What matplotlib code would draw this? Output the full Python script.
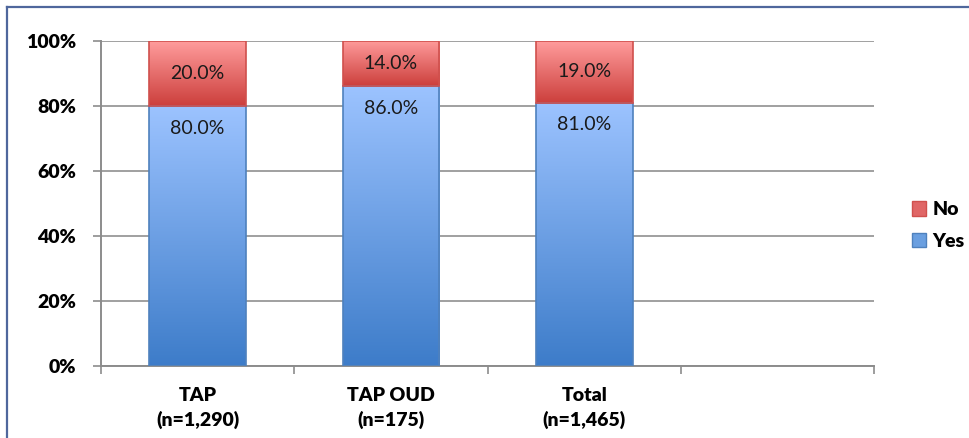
import numpy as np
import matplotlib.pyplot as plt
from matplotlib.colors import LinearSegmentedColormap
from matplotlib.lines import Line2D
from matplotlib.patches import Patch

categories = ['TAP\n(n=1,290)', 'TAP OUD\n(n=175)', 'Total\n(n=1,465)', '']
yes_values = [80.0, 86.0, 81.0]
no_values = [20.0, 14.0, 19.0]

plt.rcParams['font.family'] = ['Lato', 'DejaVu Sans']

blue_cmap = LinearSegmentedColormap.from_list('blue', ['#3d7cc9', '#9cc3ff'])
red_cmap = LinearSegmentedColormap.from_list('red', ['#cc3f3c', '#ff9c9c'])

fig = plt.figure(figsize=(9.69, 4.38), dpi=100)
ax = fig.add_axes([0.1042, 0.1644, 0.798, 0.742])

x = np.arange(len(yes_values))
yes_bars = ax.bar(x, yes_values, width=0.5, color='none', edgecolor='#4f81bd', linewidth=1.2, zorder=3)
no_bars = ax.bar(x, no_values, width=0.5, bottom=yes_values, color='none', edgecolor='#d0504d',
                 linewidth=1.2, zorder=3)

grad = np.linspace(0, 1, 256).reshape(-1, 1)


def fill_gradient(bars, cmap):
    for b in bars:
        x0, y0 = b.get_x(), b.get_y()
        w, h = b.get_width(), b.get_height()
        im = ax.imshow(grad, cmap=cmap, origin='lower', aspect='auto',
                       extent=[x0, x0 + w, y0, y0 + h], zorder=2)
        im.set_clip_path(b)


fill_gradient(yes_bars, blue_cmap)
fill_gradient(no_bars, red_cmap)

for i in range(len(yes_values)):
    ax.text(x[i], yes_values[i] - 6.8, f'{yes_values[i]:.1f}%', ha='center', va='center',
            fontsize=14, color='#1a1a1a', zorder=4)
    ax.text(x[i], yes_values[i] + no_values[i] / 2, f'{no_values[i]:.1f}%', ha='center', va='center',
            fontsize=14, color='#1a1a1a', zorder=4)

ax.set_xlim(-0.5, len(categories) - 0.5)
ax.set_ylim(0, 100)
ax.set_yticks(np.arange(0, 101, 20))
ax.set_yticklabels([f'{v}%' for v in range(0, 101, 20)], fontsize=14, fontweight='heavy')
ax.set_xticks(np.arange(len(categories) + 1) - 0.5, minor=False)
ax.set_xticklabels([])
ax.set_xticks(np.arange(len(categories)), minor=True)
ax.set_xticklabels(categories, minor=True, fontsize=14, fontweight='heavy', linespacing=1.45)
ax.tick_params(axis='x', which='minor', length=0, pad=15)
ax.tick_params(axis='x', which='major', length=6, color='#8c8c8c', width=1.2)
ax.tick_params(axis='y', length=6, color='#8c8c8c', width=1.2, pad=12)

ax.yaxis.grid(True, color='#a0a0a0', linewidth=1.4, zorder=0)
ax.set_axisbelow(True)
for s in ['top', 'right']:
    ax.spines[s].set_visible(False)
for s in ['left', 'bottom']:
    ax.spines[s].set_color('#8c8c8c')
    ax.spines[s].set_linewidth(1.4)

handles = [Patch(facecolor='#e06666', edgecolor='#d0504d', label='No'),
           Patch(facecolor='#6a9fe0', edgecolor='#4f81bd', label='Yes')]
leg = fig.legend(handles=handles, loc='center left', bbox_to_anchor=(0.933, 0.485), frameon=False,
                 prop={'size': 14, 'weight': 'heavy'}, handlelength=0.75, handleheight=0.75,
                 handletextpad=0.3, labelspacing=0.75, borderaxespad=0)

# outer frame of the original figure
fig.add_artist(Line2D([7 / 969, 7 / 969], [0, 1 - 7 / 438], color='#4f679c', linewidth=1.6))
fig.add_artist(Line2D([7 / 969, 1], [1 - 7 / 438, 1 - 7 / 438], color='#4f679c', linewidth=1.6))

fig.savefig('out.png', dpi=100)
